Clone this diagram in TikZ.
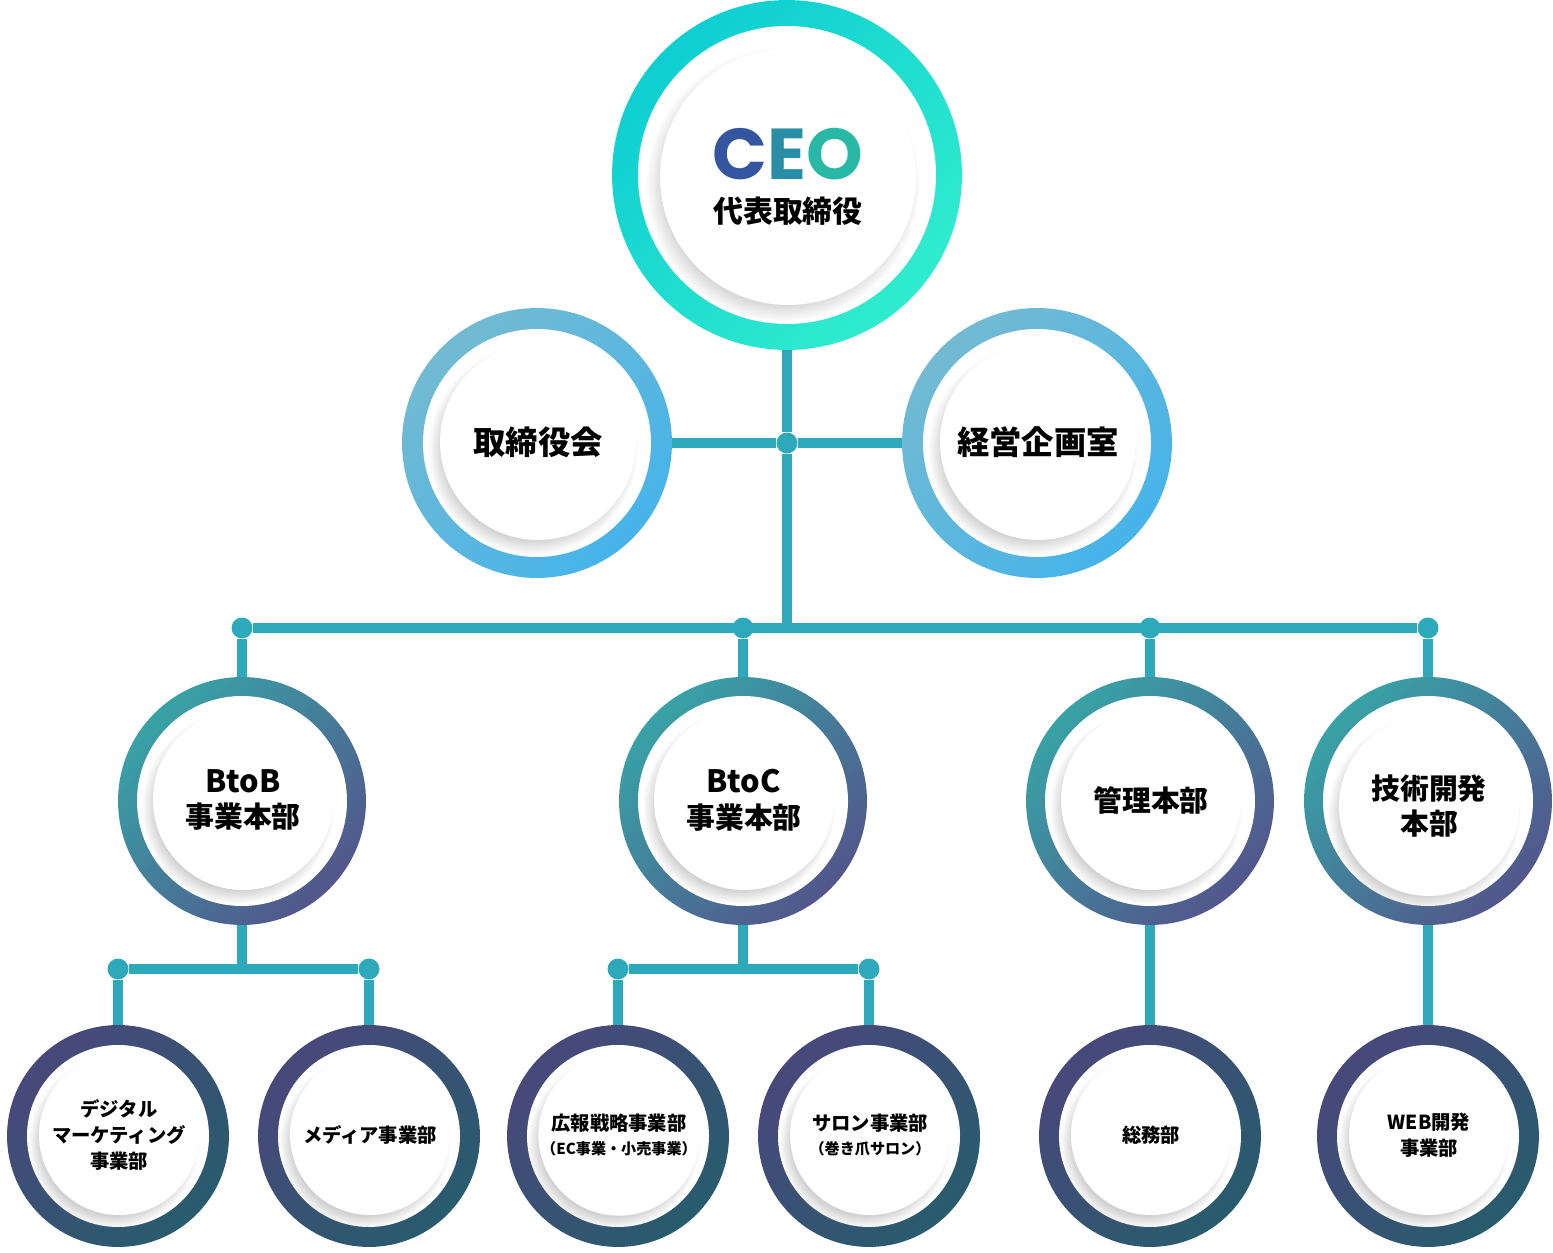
\documentclass[tikz,border=0pt]{standalone}
\usepackage{fontspec}
\setmainfont{Noto Sans CJK JP}
\newfontfamily\ceofont{Poppins}
\usetikzlibrary{shadows,backgrounds}
\definecolor{linecolor}{RGB}{46,169,188}
\definecolor{ceoA}{RGB}{14,206,210}
\definecolor{ceoB}{RGB}{48,236,206}
\definecolor{sideA}{RGB}{114,186,210}
\definecolor{sideB}{RGB}{70,180,234}
\definecolor{midA}{RGB}{56,162,166}
\definecolor{midB}{RGB}{82,86,140}
\definecolor{lowA}{RGB}{72,72,122}
\definecolor{lowB}{RGB}{40,92,110}
\definecolor{ceoC}{RGB}{52,86,160}
\definecolor{ceoE}{RGB}{40,142,168}
\definecolor{ceoO}{RGB}{40,184,166}

\tikzset{
  ring/.style 2 args={circle, inner sep=0pt, minimum size=#1*0.04cm,
    path picture={\fill[white] (path picture bounding box.center) circle (#2*0.02cm);}},
  ceoring/.style={ring={175}{149}, top color=ceoA, bottom color=ceoB, shading angle=45},
  sidering/.style={ring={135}{114}, top color=sideA, bottom color=sideB, shading angle=45},
  midring/.style={ring={124}{105}, top color=midA, bottom color=midB, shading angle=45},
  lowring/.style={ring={111}{91}, top color=lowA, bottom color=lowB, shading angle=45},
  inner/.style={circle, fill=white, inner sep=0pt, minimum size=#1*0.04cm, align=center,
    circular drop shadow={shadow xshift=-0.1cm, shadow yshift=-0.14cm, shadow scale=1.07, opacity=0.35}},
  conn/.style={draw=linecolor, line width=0.2cm},
  dot/.style={circle, fill=linecolor, inner sep=0pt, minimum size=0.42cm},
}

\begin{document}
\begin{tikzpicture}[x=0.02cm, y=-0.02cm]
\useasboundingbox (0,0) rectangle (1553,1253);

% top
\node[ceoring] (ceo) at (787,175) {};
\node[inner=128, font=\bfseries] (ceo-in) at (788,177) {{\ceofont\fontsize{41}{41}\selectfont\textcolor{ceoC}{C}\textcolor{ceoE}{E}\textcolor{ceoO}{O}}\\[9pt]{\fontsize{17}{20}\selectfont 代表取締役}};

\node[sidering] (board) at (537,443) {};
\node[inner=98, font=\bfseries\fontsize{18.4}{22}\selectfont] (board-in) at (538,442) {取締役会};
\node[sidering] (plan) at (1037,443) {};
\node[inner=98, font=\bfseries\fontsize{18.4}{22}\selectfont] (plan-in) at (1038,442) {経営企画室};

% junctions
\node[dot] (hub) at (787,443) {};
\coordinate (bushub) at (787,628);
\node[dot] (j1) at (242,628) {};
\node[dot] (j2) at (743,628) {};
\node[dot] (j3) at (1150,628) {};
\node[dot] (j4) at (1428,628) {};

% middle
\node[midring] (btob) at (242,801) {};
\node[inner=90, font=\bfseries\fontsize{16.4}{20.4}\selectfont] (btob-in) at (243,800) {{\fontsize{17.5}{20.4}\selectfont BtoB}\\事業本部};
\node[midring] (btoc) at (743,801) {};
\node[inner=90, font=\bfseries\fontsize{16.4}{20.4}\selectfont] (btoc-in) at (744,800) {{\fontsize{17.5}{20.4}\selectfont BtoC}\\事業本部};
\node[midring] (admin) at (1150,801) {};
\node[inner=90, font=\bfseries\fontsize{16.4}{20.4}\selectfont] (admin-in) at (1151,800) {管理本部};
\node[midring] (tech) at (1428,801) {};
\node[inner=90, font=\bfseries\fontsize{16.4}{20.4}\selectfont] (tech-in) at (1429,806) {技術開発\\本部};

% sub junctions
\coordinate (b1) at (242,969);
\coordinate (b2) at (743,969);
\node[dot] (s1) at (118,969) {};
\node[dot] (s2) at (369,969) {};
\node[dot] (s3) at (618,969) {};
\node[dot] (s4) at (869,969) {};

% bottom
\node[lowring] (digital) at (118,1136) {};
\node[inner=80, font=\bfseries\fontsize{11}{14.7}\selectfont] (digital-in) at (119,1135) {デジタル\\マーケティング\\事業部};
\node[lowring] (media) at (369,1136) {};
\node[inner=80, font=\bfseries\fontsize{11}{14.7}\selectfont] (media-in) at (370,1135) {メディア事業部};
\node[lowring] (pr) at (618,1136) {};
\node[inner=80, font=\bfseries\fontsize{11}{14}\selectfont] (pr-in) at (619,1135) {広報戦略事業部\\{\fontsize{8.6}{10}\selectfont （EC事業・小売事業）}};
\node[lowring] (salon) at (869,1136) {};
\node[inner=80, font=\bfseries\fontsize{11}{14}\selectfont] (salon-in) at (870,1135) {サロン事業部\\{\fontsize{8.6}{10}\selectfont （巻き爪サロン）}};
\node[lowring] (general) at (1150,1136) {};
\node[inner=80, font=\bfseries\fontsize{11}{14.7}\selectfont] (general-in) at (1151,1135) {総務部};
\node[lowring] (web) at (1428,1136) {};
\node[inner=80, font=\bfseries\fontsize{11}{14.7}\selectfont] (web-in) at (1429,1135) {WEB開発\\事業部};

\begin{scope}[on background layer]
\draw[conn] (ceo.south) -- (hub) -- (bushub);
\draw[conn] (board.east) -- (hub) -- (plan.west);
\draw[conn] (j1) -- (j4);
\draw[conn] (j1) -- (btob.north);
\draw[conn] (j2) -- (btoc.north);
\draw[conn] (j3) -- (admin.north);
\draw[conn] (j4) -- (tech.north);
\draw[conn] (btob.south) -- (b1);
\draw[conn] (s1) -- (s2);
\draw[conn] (s1) -- (digital.north);
\draw[conn] (s2) -- (media.north);
\draw[conn] (btoc.south) -- (b2);
\draw[conn] (s3) -- (s4);
\draw[conn] (s3) -- (pr.north);
\draw[conn] (s4) -- (salon.north);
\draw[conn] (admin.south) -- (general.north);
\draw[conn] (tech.south) -- (web.north);
\end{scope}
\end{tikzpicture}
\end{document}
